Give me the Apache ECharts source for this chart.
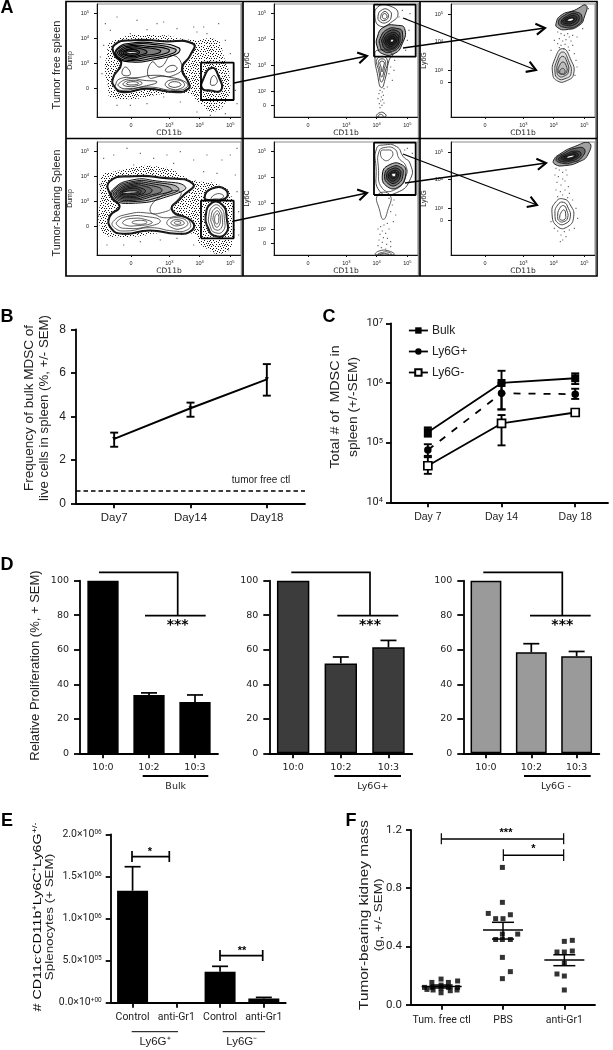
<!DOCTYPE html>
<html><head><meta charset="utf-8">
<style>html,body{margin:0;padding:0;background:#fff}#c{width:613px;height:1050px}</style>
<script src="https://cdn.jsdelivr.net/npm/echarts@6/dist/echarts.min.js"></script>
</head><body><div id="c"></div>
<script>
/* ---------- Panel A: contour plots, values in display channels (0-432 x, 0-339 y) ---------- */
const a1Halo=[[29,181],[44,226],[169,246],[289,231],[359,231],[381,181],[399,111],[389,51],[349,16],[309,41],[269,71],[49,56],[31,101],[24,151]];
const a1Outer=[[54,216],[109,229],[199,226],[287,219],[279,186],[254,146],[274,101],[274,86],[239,76],[149,86],[79,76],[54,91],[49,116],[74,161],[54,186]];
const a1Patch=[[319,111],[344,146],[364,121],[371,81],[339,81],[317,86]];
const a1Top=[
[[60,205],[105,222],[170,222],[245,208],[240,190],[170,172],[105,165],[60,180]],
[[62,203],[105,218],[165,218],[235,204],[230,192],[165,176],[105,169],[62,182]],
[[66,200],[105,214],[155,212],[215,203],[210,192],[150,180],[105,173],[66,185]],
[[70,198],[105,210],[145,208],[190,200],[185,192],[140,184],[105,177],[70,187]],
[[74,196],[105,206],[135,204],[150,194],[130,186],[105,181],[74,189]],
[[80,195],[105,202],[125,198],[125,190],[105,185],[80,190]]];
const a1Rings=[
[[55,95],[70,115],[120,118],[170,125],[215,120],[265,105],[270,90],[235,80],[150,90],[80,80],[58,85]],
[[65,100],[100,115],[140,110],[180,105],[140,92],[90,85],[68,90]],
[[78,100],[105,110],[135,103],[125,95],[90,92]],
[[88,100],[108,106],[125,101],[105,96]],
[[205,100],[232,112],[262,100],[250,85],[220,85]],
[[215,98],[232,106],[252,98],[240,90],[222,91]],
[[76,128],[85,150],[100,128]],
[[155,120],[165,165],[190,150],[225,185],[255,150],[230,125],[190,122]],
[[205,140],[225,155],[240,145],[220,135]],
[[340,100],[349,124],[360,112],[358,100],[348,95]]];
const a1Dark=[[[85,193],[105,197],[122,194],[108,191],[85,192]]];
const a1Dots=[[25,280],[60,300],[120,290],[180,280],[200,285],[240,265],[290,270],[320,270],[365,280],[100,250],[150,262],[330,250],[300,255],[385,230],[400,190],[410,140],[415,80],[420,40],[385,10],[340,5],[300,15],[250,45],[200,60],[150,40],[100,35],[60,35],[15,130],[10,180],[20,215],[40,260]];
const a1Gate=[[312,51],[410,51],[410,163],[312,163],[312,51]];

const a2Halo=[[14,235],[49,250],[189,265],[289,225],[369,210],[404,175],[409,115],[409,45],[379,5],[319,25],[279,65],[39,55],[9,85],[9,165]];
const a2Outer=[[39,220],[109,235],[199,230],[287,213],[254,175],[224,135],[284,100],[284,75],[239,65],[159,75],[79,65],[44,80],[39,115],[69,145],[44,175]];
const a2Patch=[[327,115],[345,155],[375,150],[388,110],[385,65],[350,60],[335,80]];
const a2Upper=[[324,172],[345,198],[384,196],[386,172],[345,166]];
const a2Top=[
[[46,195],[105,225],[180,222],[265,205],[220,178],[105,155],[46,170]],
[[50,195],[105,220],[175,218],[245,200],[200,178],[105,160],[50,172]],
[[54,193],[105,216],[165,214],[225,196],[180,180],[105,164],[54,174]],
[[58,191],[105,212],[155,210],[195,194],[155,178],[105,168],[58,176]],
[[62,190],[105,208],[145,206],[165,192],[135,178],[105,172],[62,178]],
[[68,189],[105,204],[135,200],[145,190],[125,180],[105,176],[68,180]],
[[72,188],[105,200],[128,196],[132,188],[115,182],[72,182]]];
const a2Rings=[
[[48,100],[90,122],[160,125],[200,112],[255,115],[280,95],[270,75],[230,72],[160,82],[85,72],[52,82]],
[[60,100],[90,115],[150,115],[190,102],[150,85],[85,80],[62,88]],
[[78,100],[110,110],[150,105],[165,96],[120,88],[85,90]],
[[105,98],[130,104],[150,98],[130,92]],
[[210,100],[240,112],[272,97],[255,80],[225,82]],
[[222,98],[240,106],[262,96],[245,88],[228,90]],
[[232,97],[242,101],[252,96],[240,92]],
[[160,130],[190,175],[250,190],[230,150],[205,130]],
[[340,165],[355,182],[378,180],[375,170],[350,168]],
[[335,115],[350,148],[372,142],[382,110],[378,72],[352,68],[340,85]],
[[342,113],[354,140],[368,136],[376,108],[372,80],[355,76],[346,90]],
[[348,112],[358,132],[366,128],[370,106],[366,88],[357,84],[352,95]],
[[353,110],[360,124],[364,120],[365,104],[362,94],[357,94]]];
const a2Dark=[[[75,188],[105,192],[125,189],[105,186],[75,186]]];
const a2Dots=[[20,290],[50,300],[90,320],[130,305],[170,290],[210,300],[250,310],[290,285],[330,300],[375,285],[400,300],[420,320],[110,270],[230,275],[320,250],[360,245],[415,240],[420,190],[425,130],[425,60],[395,15],[350,10],[290,30],[240,50],[190,45],[130,40],[80,30],[30,30],[5,120],[12,210]];
const a2Gate=[[312,50],[410,50],[410,163],[312,163],[312,50]];

const b1Rings=[
[[303,300],[315,333],[350,332],[372,310],[350,283],[320,272]],
[[312,302],[325,322],[345,320],[352,303],[340,285],[320,285]],
[[320,302],[330,316],[340,312],[343,300],[333,290],[322,292]],
[[325,301],[330,310],[338,306],[337,297],[329,295]],
[[303,180],[310,130],[322,88],[335,120],[345,170],[355,190],[310,200]],
[[310,175],[315,135],[322,105],[332,130],[338,175]],
[[315,170],[318,140],[323,120],[330,140],[333,170]],
[[318,165],[321,150],[324,135],[328,150],[330,165]],
[[308,1],[315,12],[330,12],[335,1]],
[[313,1],[320,8],[328,1]]];
const b1Blob=[
[[310,240],[330,270],[370,275],[392,265],[385,220],[360,190],[325,190],[310,210]],
[[318,235],[340,263],[372,265],[385,255],[378,215],[350,195],[328,198],[318,215]],
[[325,235],[345,258],[370,258],[378,245],[372,215],[352,202],[333,205],[325,220]],
[[330,232],[350,252],[368,250],[374,235],[365,212],[345,207],[335,215]],
[[335,230],[352,246],[366,243],[368,228],[358,215],[345,213]],
[[340,230],[354,241],[363,236],[362,224],[350,218],[342,222]],
[[345,230],[355,237],[360,230],[355,222],[347,224]]];
const b1Core=[[350,229],[355,233],[358,228],[353,225]];
const b1Dots=[[318,80],[325,75],[330,85],[315,70],[322,60],[328,65],[312,55],[320,48],[326,52],[316,40],[324,35],[330,42],[318,28],[345,130],[355,110],[350,150],[362,170],[395,200],[400,230],[405,260],[375,300],[385,320],[395,295],[408,310],[340,90],[360,140]];
const b1Gate=[[300,181],[425,181],[425,337],[300,337],[300,181]];

const c1Blob=[
[[315,280],[330,305],[370,320],[405,335],[400,300],[385,275],[345,262],[320,268]],
[[322,283],[345,308],[375,315],[393,300],[380,275],[345,268]],
[[330,285],[350,304],[372,310],[385,298],[372,278],[345,275]],
[[335,287],[352,300],[370,304],[378,295],[365,282],[345,280]],
[[342,288],[355,296],[368,298],[370,292],[358,286]]];
const c1Core=[[350,290],[358,294],[366,294],[360,289]];
const c1Rings=[
[[305,130],[312,175],[335,205],[358,175],[368,130],[345,108],[320,108]],
[[312,135],[318,170],[335,195],[352,170],[360,130],[342,115],[322,115]],
[[318,135],[322,165],[335,182],[348,165],[352,135],[338,122],[325,122]],
[[322,135],[326,155],[336,165],[345,155],[347,135],[335,128]],
[[326,135],[332,145],[340,143],[341,132],[333,129]]];
const c1Dots=[[320,255],[330,250],[340,245],[350,250],[355,240],[325,235],[335,228],[345,232],[360,228],[320,220],[330,215],[342,218],[352,210],[365,215],[325,208],[338,205],[355,200],[370,190],[375,170],[378,150],[372,125],[300,200],[310,230],[365,245],[378,240],[395,265],[412,325]];

const b2Outer=[[308,320],[328,330],[368,325],[388,295],[408,275],[410,230],[368,187],[318,190],[306,265]];
const b2Rings=[
[[315,310],[330,322],[362,318],[375,290],[395,268],[395,235],[365,197],[325,200],[313,265]],
[[320,310],[335,315],[355,310],[350,290],[330,285]],
[[311,180],[318,130],[328,107],[340,130],[348,180]],
[[305,1],[315,12],[345,12],[360,1]],
[[312,1],[325,8],[345,8],[352,1]],
[[318,1],[330,5],[345,1]]];
const b2Blob=[
[[325,240],[345,270],[385,270],[395,240],[375,205],[340,205]],
[[332,240],[350,263],[380,263],[387,240],[370,212],[345,212]],
[[338,240],[353,258],[375,257],[380,240],[367,218],[348,218]],
[[343,240],[355,252],[371,252],[374,240],[363,224],[350,224]],
[[348,241],[358,248],[368,247],[368,238],[360,230],[352,231]]];
const b2Core=[[353,241],[360,245],[365,241],[360,235]];
const b2Dots=[[345,170],[355,150],[350,130],[360,165],[340,95],[330,90],[320,85],[312,78],[325,72],[335,65],[318,62],[328,52],[340,50],[315,45],[325,38],[338,32],[350,40],[312,28],[322,22],[335,18],[350,25],[365,120],[358,100],[345,78],[400,320],[415,305],[392,315]];
const b2Gate=[[300,180],[425,180],[425,337],[300,337],[300,180]];

const c2Blob=[
[[308,285],[330,305],[370,325],[415,336],[410,300],[385,280],[340,268],[312,272]],
[[315,287],[340,306],[372,320],[400,318],[392,292],[365,278],[335,275]],
[[322,288],[345,303],[372,312],[390,305],[380,290],[355,281],[335,280]],
[[330,290],[350,300],[372,307],[382,300],[370,290],[350,284]],
[[338,292],[355,298],[372,302],[374,296],[355,288]]];
const c2Core=[[348,293],[358,297],[368,298],[358,293]];
const c2Rings=[
[[303,125],[315,160],[338,168],[358,150],[368,115],[350,85],[320,85]],
[[312,120],[320,150],[338,158],[352,140],[358,115],[345,95],[322,95]],
[[320,115],[326,140],[338,148],[347,135],[350,112],[338,100],[325,102]],
[[326,112],[332,130],[340,135],[344,120],[342,108],[330,105]]];
const c2Dots=[[315,260],[325,255],[335,248],[345,255],[312,240],[322,235],[335,228],[348,240],[318,218],[330,210],[342,222],[352,205],[315,195],[328,190],[342,195],[355,185],[320,175],[335,180],[350,172],[365,165],[375,140],[380,110],[370,80],[355,75],[340,70],[330,60],[320,72],[345,55],[335,45],[328,40],[310,80],[300,100]];
const flowTicksX=[102,217,308,400];
const flowTicksXLabels=['0','3','4','5'];
const flowTicksY1=[311,236,161,86];
const flowLabelsY1=['5','4','3','0'];
const flowTicksY2=[311,234,156,76,36];
const flowLabelsY2=['5','4','3','2','0'];
const flowTicksY3=[308,226,139,103];
const flowLabelsY3=['5','4','3','0'];

/* ---------- Panel B ---------- */
const bDays=['Day7','Day14','Day18'];
const bMean=[2.96,4.37,5.7];
const bLow=[2.6,3.98,4.95];
const bHigh=[3.25,4.63,6.4];
const bCtl=0.6;
/* ---------- Panel C ---------- */
const cDays=['Day 7','Day 14','Day 18'];
const cBulk=[1.5e5,1e6,1.2e6], cBulkLow=[1.26e5,3.6e5,9.6e5], cBulkHigh=[1.8e5,1.6e6,1.45e6];
const cPos=[7.5e4,6.7e5,6.5e5], cPosLow=[6e4,3.6e5,5.4e5], cPosHigh=[9.4e4,1e6,8e5];
const cNeg=[4.1e4,2.1e5,3.2e5], cNegLow=[3e4,9e4,2.9e5], cNegHigh=[5.7e4,2.9e5,3.5e5];
/* ---------- Panel D ---------- */
const dCats=['10:0','10:2','10:3'];
const dBulk=[100,33.8,29.7], dBulkErr=[100,35,33.8];
const dPos=[100,52.1,61.4], dPosErr=[100,55.8,65.4];
const dNeg=[100,58.5,56.2], dNegErr=[100,63.5,59];
/* ---------- Panel E ---------- */
const eCats=['Control','anti-Gr1','Control ','anti-Gr1 '];
const eVals=[1.33e6,0,3.68e5,5e4];
const eErr=[1.615e6,0,4.32e5,6.3e4];
const eTicks=[['0.0','+00'],['5.0','05'],['1.0','06'],['1.5','06'],['2.0','06']];
/* ---------- Panel F: x = 0.5,1.5,2.5 for the three groups ---------- */
const fCats=['Tum. free ctl','PBS','anti-Gr1'];
const fTum=[[0.49,.176],[0.34,.153],[0.61,.153],[0.76,.163],[0.22,.119],[0.34,.119],[0.49,.135],[0.61,.119],[0.76,.119],[0.36,.101],[0.49,.112],[0.64,.096],[0.49,.082],[0.75,.101],[0.26,.105]];
const fPbs=[[1.49,.943],[1.49,.703],[1.26,.627],[1.62,.618],[1.38,.591],[1.50,.591],[1.49,.485],[1.74,.485],[1.38,.448],[1.49,.448],[1.62,.448],[1.49,.325],[1.62,.227],[1.49,.179]];
const fGr1=[[2.5,.435],[2.63,.442],[2.38,.362],[2.5,.362],[2.63,.369],[2.5,.284],[2.38,.211],[2.5,.197],[2.5,.101]];
const fMean=[.125,.513,.307];
const fLow=[.115,.451,.268];
const fHigh=[.135,.566,.343];

const sans='"Liberation Sans",Arial,sans-serif', narrow='Roboto,"Liberation Sans",sans-serif', wide='"DejaVu Sans",sans-serif';

/* speckle texture for the dense dot cloud */
function speckle(dots,size){const c=document.createElement('canvas');c.width=c.height=size;const g=c.getContext('2d');g.fillStyle='#1a1a1a';dots.forEach(d=>g.fillRect(d[0],d[1],1,1));return {image:c,repeat:'repeat'};}
const speckleTile=[[0,0],[3,0],[6,1],[9,0],[12,1],[1,2],[4,2],[8,2],[11,3],[13,3],[0,4],[2,4],[6,4],[9,4],[12,5],[3,5],[5,6],[8,6],[10,6],[13,7],[1,6],[0,8],[3,8],[6,8],[11,8],[2,9],[5,10],[8,9],[10,10],[13,10],[0,11],[3,11],[7,11],[12,12],[1,13],[4,13],[6,13],[9,12],[11,13],[14,13],[14,1],[14,5]];
const speckleFill=speckle(speckleTile,15);

const grids=[],xAxes=[],yAxes=[],series=[],graphic=[];

function polyRender(polys,style){return function(p,api){const poly=polys[api.value(0)];
  return {type:'polygon',shape:{points:poly.map(q=>api.coord(q)),smooth:style.smooth===undefined?0.55:style.smooth},style:{fill:style.fill||'none',stroke:style.stroke||'none',lineWidth:style.lw||0},silent:true};};}
function polys(gi,list,style,z){series.push({type:'custom',xAxisIndex:gi,yAxisIndex:gi,z:z,clip:true,silent:true,data:list.map((_,i)=>[i]),encode:{x:[],y:[]},renderItem:polyRender(list,style)});}

function flowPanel(left,top,name,yTicks,yLabels){
  const gi=grids.length;
  grids.push({left:left,top:top,width:144,height:113,show:true,borderColor:'#8a8a8a',borderWidth:1,backgroundColor:'#fff'});
  const rich={s:{fontSize:4,fontFamily:sans,color:'#222',verticalAlign:'top',padding:[0,0,2,0]}};
  xAxes.push({gridIndex:gi,type:'value',min:0,max:432,name:'CD11b',nameLocation:'middle',nameGap:12,nameTextStyle:{fontSize:7.5,fontFamily:wide,color:'#222'},
    axisLine:{show:true,onZero:false,lineStyle:{color:'#111',width:1}},splitLine:{show:false},
    axisTick:{show:true,length:2,customValues:flowTicksX,lineStyle:{color:'#111',width:1}},
    axisLabel:{fontSize:5.5,fontFamily:sans,color:'#222',margin:5,customValues:flowTicksX,rich:rich,formatter:v=>{const l=flowTicksXLabels[flowTicksX.indexOf(v)];return l==='0'?'0':'10{s|'+l+'}';}}});
  yAxes.push({gridIndex:gi,type:'value',min:0,max:339,name:name,nameLocation:'middle',nameGap:23,nameTextStyle:{fontSize:7,fontFamily:sans,color:'#222'},
    axisLine:{show:true,onZero:false,lineStyle:{color:'#111',width:1}},splitLine:{show:false},
    axisTick:{show:true,length:3,customValues:yTicks,lineStyle:{color:'#111',width:1}},
    axisLabel:{fontSize:5.5,fontFamily:sans,color:'#222',margin:8,customValues:yTicks,rich:rich,formatter:v=>{const l=yLabels[yTicks.indexOf(v)];return l==='0'?'0':'10{s|'+l+'}';}}});
  return gi;
}
function dots(gi,list,z=4,size=1.1){series.push({type:'scatter',xAxisIndex:gi,yAxisIndex:gi,data:list,symbol:'rect',symbolSize:size,itemStyle:{color:'#333'},z:z,silent:true});}
function gate(gi,pts){series.push({type:'line',xAxisIndex:gi,yAxisIndex:gi,data:pts,symbol:'none',lineStyle:{color:'#000',width:1.8},z:9,silent:true});}
const shade='rgba(0,0,0,0.16)';

/* A row 1 */
let g=flowPanel(97,4,'Dump',flowTicksY1,flowLabelsY1);
polys(g,[a1Halo],{fill:speckleFill},2);dots(g,a1Dots);
polys(g,[a1Outer,a1Patch],{stroke:'#222',lw:3},3);
polys(g,[a1Outer],{fill:'#fff',stroke:'#111',lw:1.2},5);polys(g,[a1Patch],{fill:'#fff',stroke:'#111',lw:1.2},5);
polys(g,a1Rings,{stroke:'#222',lw:0.8},6);polys(g,a1Top,{fill:shade,stroke:'#000',lw:1.1},6);polys(g,a1Dark,{fill:'#fff',stroke:'#000',lw:1},7);gate(g,a1Gate);

g=flowPanel(274,4,'Ly6C',flowTicksY2,flowLabelsY2);
dots(g,b1Dots);polys(g,b1Rings,{stroke:'#333',lw:0.9},6);polys(g,b1Blob,{fill:'rgba(20,20,20,0.36)',stroke:'#111',lw:1},6);polys(g,[b1Core],{fill:'#fff',stroke:'#000',lw:0.6},7);gate(g,b1Gate);

g=flowPanel(451,4,'Ly6G',flowTicksY3,flowLabelsY3);
dots(g,c1Dots);polys(g,c1Rings,{fill:'rgba(0,0,0,0.07)',stroke:'#444',lw:1},6);polys(g,c1Blob,{fill:'rgba(20,20,20,0.4)',stroke:'#111',lw:0.9},6);polys(g,[c1Core],{fill:'#fff'},7);

/* A row 2 */
g=flowPanel(97,142,'Dump',flowTicksY1,flowLabelsY1);
polys(g,[a2Halo],{fill:speckleFill},2);dots(g,a2Dots);
polys(g,[a2Outer,a2Patch,a2Upper],{stroke:'#222',lw:3},3);
polys(g,[a2Outer],{fill:'#fff',stroke:'#111',lw:1.2},5);polys(g,[a2Patch,a2Upper],{fill:'#fff',stroke:'#111',lw:1.2},5);
polys(g,a2Rings,{stroke:'#333',lw:0.8},6);polys(g,a2Top,{fill:shade,stroke:'#111',lw:1},6);polys(g,a2Dark,{fill:'#fff',stroke:'#000',lw:1},7);gate(g,a2Gate);

g=flowPanel(274,142,'Ly6C',flowTicksY2,flowLabelsY2);
dots(g,b2Dots);polys(g,[b2Outer],{stroke:'#333',lw:0.9},6);polys(g,b2Rings,{stroke:'#333',lw:0.8},6);polys(g,b2Blob,{fill:'rgba(20,20,20,0.36)',stroke:'#111',lw:1},6);polys(g,[b2Core],{fill:'#fff',stroke:'#000',lw:0.6},7);gate(g,b2Gate);

g=flowPanel(451,142,'Ly6G',flowTicksY3,flowLabelsY3);
dots(g,c2Dots);polys(g,c2Rings,{stroke:'#444',lw:1},6);polys(g,c2Blob,{fill:'rgba(20,20,20,0.4)',stroke:'#111',lw:0.9},6);polys(g,[c2Core],{fill:'#fff'},7);

/* shared helpers for the plain axes */
const axLine={show:true,onZero:false,lineStyle:{color:'#000',width:1.8}};
const axTick={show:true,alignWithLabel:true,length:5,lineStyle:{color:'#000',width:1.8}};
const yTick={show:true,length:5,lineStyle:{color:'#000',width:1.8}};
function errorSeries(gi,xs,low,high,capW,z=6,lw=1.9){
  series.push({type:'custom',xAxisIndex:gi,yAxisIndex:gi,z:z,silent:true,data:xs.map((x,i)=>[x,low[i],high[i]]),encode:{x:0,y:[1,2]},
  renderItem(p,api){const a=api.coord([api.value(0),api.value(1)]),b=api.coord([api.value(0),api.value(2)]);
    const st={stroke:'#000',lineWidth:lw,fill:'none'};
    return {type:'group',children:[
      {type:'line',shape:{x1:a[0],y1:a[1],x2:b[0],y2:b[1]},style:st},
      {type:'line',shape:{x1:a[0]-capW/2,y1:a[1],x2:a[0]+capW/2,y2:a[1]},style:st},
      {type:'line',shape:{x1:b[0]-capW/2,y1:b[1],x2:b[0]+capW/2,y2:b[1]},style:st}]};}});
}
function barErr(gi,vals,errs){series.push({type:'custom',xAxisIndex:gi,yAxisIndex:gi,z:2,silent:true,data:vals.map((v,i)=>[i,v,errs[i]]),encode:{x:0,y:[1,2]},renderItem(p,api){if(api.value(1)===api.value(2))return null;const a=api.coord([api.value(0),api.value(1)]),b=api.coord([api.value(0),api.value(2)]);const st={stroke:'#000',lineWidth:1.7};return {type:'group',children:[{type:'line',shape:{x1:a[0],y1:a[1],x2:b[0],y2:b[1]},style:st},{type:'line',shape:{x1:b[0]-8,y1:b[1],x2:b[0]+8,y2:b[1]},style:st}]};}});}

/* B */
g=grids.length;grids.push({left:76,top:329.3,width:229,height:174});
xAxes.push({gridIndex:g,type:'category',data:bDays,axisLine:axLine,axisTick:axTick,axisLabel:{fontSize:11.5,fontFamily:sans,color:'#222',margin:9}});
yAxes.push({gridIndex:g,type:'value',min:0,max:8,interval:2,axisLine:axLine,axisTick:yTick,splitLine:{show:false},axisLabel:{fontSize:12,fontFamily:sans,color:'#222',margin:10}});
series.push({type:'line',name:'B',xAxisIndex:g,yAxisIndex:g,data:bMean,symbol:'triangle',symbolRotate:180,symbolSize:4,itemStyle:{color:'#000'},lineStyle:{color:'#000',width:1.9},z:5,
  markLine:{silent:true,symbol:'none',label:{show:false},lineStyle:{color:'#000',type:[4.5,3],width:1.5},data:[{yAxis:bCtl}]}});
errorSeries(g,bDays.map((_,i)=>i),bLow,bHigh,8);

/* C */
g=grids.length;grids.push({left:391,top:323.3,width:217,height:179});
xAxes.push({gridIndex:g,type:'value',min:0.5,max:3.445,axisLine:axLine,splitLine:{show:false},
  axisTick:{show:true,length:5,customValues:[1,2,3],lineStyle:{color:'#000',width:1.8}},
  axisLabel:{fontSize:10.5,fontFamily:sans,color:'#222',margin:9,customValues:[1,2,3],formatter:v=>cDays[v-1]}});
yAxes.push({gridIndex:g,type:'log',logBase:10,min:1e4,max:1e7,axisLine:axLine,axisTick:yTick,splitLine:{show:false},minorTick:{show:false},
  axisLabel:{fontFamily:narrow,fontSize:11,color:'#222',margin:8,rich:{s:{fontSize:7.5,fontFamily:narrow,color:'#222',verticalAlign:'top',padding:[0,0,4,0]}},formatter:v=>'10{s|'+Math.round(Math.log10(v))+'}'}});
const cX=[1,2,3];
const toPts=a=>a.map((v,i)=>[cX[i],v]);
const cLineBase={xAxisIndex:g,yAxisIndex:g,type:'line',z:5,itemStyle:{color:'#000'}};
series.push(Object.assign({},cLineBase,{name:'Bulk',data:toPts(cBulk),symbol:'rect',symbolSize:8,lineStyle:{color:'#000',width:1.8}}));
series.push(Object.assign({},cLineBase,{name:'Ly6G+',data:toPts(cPos),symbol:'circle',symbolSize:7.5,lineStyle:{color:'#000',width:1.8,type:[7,8]}}));
series.push(Object.assign({},cLineBase,{name:'Ly6G-',data:toPts(cNeg),symbol:'rect',symbolSize:8,itemStyle:{color:'#fff',borderColor:'#000',borderWidth:1.7},lineStyle:{color:'#000',width:1.8}}));
errorSeries(g,cX,cBulkLow,cBulkHigh,8,4);errorSeries(g,cX,cPosLow,cPosHigh,8,4);errorSeries(g,cX,cNegLow,cNegHigh,8,4);
const legend={left:403,top:319.5,orient:'vertical',itemWidth:19,itemHeight:8,itemGap:9,textStyle:{fontFamily:sans,fontSize:12,color:'#222',padding:[0,0,0,-1]},lineStyle:{type:'solid',width:1.8},selectedMode:false,data:['Bulk','Ly6G+','Ly6G-']};

/* D */
function barPanel(left,width,vals,errs,fill,border){
  const gi=grids.length;grids.push({left:left,top:580.7,width:width,height:172.6});
  xAxes.push({gridIndex:gi,type:'category',data:dCats,axisLine:axLine,axisTick:axTick,axisLabel:{fontSize:9.5,fontFamily:wide,color:'#222',margin:9}});
  yAxes.push({gridIndex:gi,type:'value',min:0,max:100,interval:20,axisLine:axLine,axisTick:{show:true,length:6,lineStyle:{color:'#000',width:1.8}},splitLine:{show:false},axisLabel:{fontSize:9.5,fontFamily:wide,color:'#222',margin:11}});
  series.push({type:'bar',xAxisIndex:gi,yAxisIndex:gi,data:vals,barWidth:'68%',itemStyle:{color:fill,borderColor:border,borderWidth:1.5},z:3,silent:true});
  barErr(gi,vals,errs);
}
barPanel(80,138,dBulk,dBulkErr,'#000','#000');
barPanel(269.3,143,dPos,dPosErr,'#3c3c3c','#000');
barPanel(463.3,136,dNeg,dNegErr,'#9a9a9a','#000');

/* E */
g=grids.length;grids.push({left:110.7,top:834.3,width:175,height:168.4});
xAxes.push({gridIndex:g,type:'category',data:eCats,axisLine:axLine,axisTick:axTick,axisLabel:{fontSize:10.5,fontFamily:narrow,color:'#222',margin:9,interval:0,formatter:v=>v.trim()}});
yAxes.push({gridIndex:g,type:'value',min:0,max:2e6,interval:5e5,axisLine:axLine,axisTick:yTick,splitLine:{show:false},
  axisLabel:{fontFamily:narrow,fontSize:10.5,color:'#222',margin:9,rich:{s:{fontSize:6.5,fontFamily:narrow,color:'#222',verticalAlign:'top',padding:[0,0,4,0]}},formatter:v=>{const t=eTicks[Math.round(v/5e5)];return t[0]+'×10{s|'+t[1]+'}';}}});
series.push({type:'bar',xAxisIndex:g,yAxisIndex:g,data:eVals,barWidth:31,itemStyle:{color:'#000'},z:3,silent:true});
barErr(g,eVals,eErr);

/* F */
g=grids.length;grids.push({left:411,top:830,width:184,height:174.7});
xAxes.push({gridIndex:g,type:'value',min:0,max:3,axisLine:axLine,splitLine:{show:false},axisTick:{show:true,length:5,customValues:[.5,1.5,2.5],lineStyle:{color:'#000',width:1.8}},
  axisLabel:{fontSize:10.5,fontFamily:narrow,color:'#222',margin:10,customValues:[.5,1.5,2.5],formatter:v=>fCats[Math.floor(v)]}});
yAxes.push({gridIndex:g,type:'value',min:0,max:1.2,interval:.4,axisLine:axLine,axisTick:yTick,splitLine:{show:false},axisLabel:{fontSize:11.5,fontFamily:narrow,color:'#222',margin:9,formatter:v=>v.toFixed(1)}});
[fTum,fPbs,fGr1].forEach(d=>series.push({type:'scatter',xAxisIndex:g,yAxisIndex:g,data:d,symbol:'rect',symbolSize:5,itemStyle:{color:'#000'},z:4,silent:true}));
series.push({type:'custom',xAxisIndex:g,yAxisIndex:g,z:5,silent:true,data:fMean.map((m,i)=>[i+.5,m,fLow[i],fHigh[i]]),encode:{x:0,y:[1,2,3]},renderItem(p,api){const x=api.value(0),m=api.coord([x,api.value(1)]),l=api.coord([x,api.value(2)]),h=api.coord([x,api.value(3)]);const st={stroke:'#000',lineWidth:1.5};return {type:'group',children:[
  {type:'line',shape:{x1:m[0]-20,y1:m[1],x2:m[0]+20,y2:m[1]},style:st},{type:'line',shape:{x1:l[0]-11,y1:l[1],x2:l[0]+11,y2:l[1]},style:st},{type:'line',shape:{x1:h[0]-11,y1:h[1],x2:h[0]+11,y2:h[1]},style:st},{type:'line',shape:{x1:l[0],y1:l[1],x2:h[0],y2:h[1]},style:st}]};}});

/* annotations */
function T(x,y,text,o={}){graphic.push({type:'text',x:x,y:y,rotation:o.rot||0,scaleX:o.sx||1,scaleY:o.sy||1,z:100,silent:true,style:{text:text,fill:o.color||'#222',font:(o.weight||'normal')+' '+(o.size||11)+'px '+(o.family||sans),textAlign:o.align||'center',textVerticalAlign:'middle',rich:o.rich}});}
function L(pts,w=1.7,c='#000'){graphic.push({type:'polyline',z:100,silent:true,shape:{points:pts},style:{stroke:c,lineWidth:w,fill:'none'}});}
function arrow(a,b){L([a,b],1.3);const ang=Math.atan2(b[1]-a[1],b[0]-a[0]),h=10.5;L([[b[0]-h*Math.cos(ang-.55),b[1]-h*Math.sin(ang-.55)],b,[b[0]-h*Math.cos(ang+.55),b[1]-h*Math.sin(ang+.55)]],2.1);}
const R=Math.PI/2;
/* panel A frames */
[[241.5,3,241.5,275],[418.5,3,418.5,275],[595.8,3,595.8,275]].forEach(v=>L([[v[0],v[1]],[v[2],v[3]]],1.4,'#8a8a8a'));
graphic.push({type:'rect',z:99,silent:true,shape:{x:66,y:1.5,width:531,height:274.5},style:{fill:'none',stroke:'#000',lineWidth:1.7}});
L([[66,138.5],[597,138.5]],1.7);L([[243,1.5],[243,276]],1.7);L([[420,1.5],[420,276]],1.7);
[[[234,83],[367,56]],[[234,221],[367,193]],[[403,48],[545,28]],[[403,18],[536,70]],[[405,183],[546,163]],[[403,154],[537,205]]].forEach(a=>arrow(a[0],a[1]));
T(57,65,'Tumor free spleen',{rot:R,size:11});
T(57,203,'Tumor-bearing Spleen',{rot:R,size:10.8});
/* panel letters */
[['A',7,8],['B',7,317],['C',329,317],['D',7,565],['E',7,821],['F',351,821]].forEach(a=>T(a[1],a[2],a[0],{weight:'bold',size:18,color:'#000'}));
/* B */
T(29,408,'Frequency of bulk MDSC of',{rot:R,size:13.5});T(44,408,'live cells in spleen (%, +/- SEM)',{rot:R,size:13.2});
T(261,480.5,'tumor free ctl',{size:10});
/* C */
T(335,407,'Total # of  MDSC in',{rot:R,size:13,sx:1.1});T(353,407,'spleen (+/-SEM)',{rot:R,size:13,sx:1.06});
/* D */
T(35,665.5,'Relative Proliferation (%, + SEM)',{rot:R,size:13});
[[99,177.7,145,205.7],[291.3,370,337.3,398.3],[483.3,562.3,530,590.7]].forEach(b=>{L([[b[0],572.3],[b[1],572.3],[b[1],615.7]]);L([[b[2],615.7],[b[3],615.7]]);T(b[1],625,'***',{family:wide,weight:'bold',size:14,color:'#000'});});
[[142.7,208.3],[334.3,401],[524,590.7]].forEach(b=>L([[b[0],776],[b[1],776]],1.8));
T(175.7,787,'Bulk',{family:wide,size:9.5});T(373,787,'Ly6G+',{family:wide,size:9.5});T(556,787,'Ly6G -',{family:wide,size:9.5});
/* E */
const upRich={s:{fontSize:7,fontFamily:sans,color:'#222',verticalAlign:'top',padding:[0,0,4,0]},b:{fontSize:11,fontFamily:sans,color:'#222'}};
graphic.push({type:'text',x:37.5,y:917,rotation:R,scaleX:1.3,z:100,silent:true,style:{text:'{b|# CD11c}{s|-}{b|CD11b}{s|+}{b|Ly6C}{s|+}{b|Ly6G}{s|+/-}',rich:upRich,textAlign:'center',textVerticalAlign:'middle'}});
T(49.5,917,'Splenocytes (+ SEM)',{rot:R,size:11,sx:1.22});
L([[132,851],[132,862]]);L([[132,856.7],[169.3,856.7]]);L([[169.3,851],[169.3,862]]);T(150,852,'*',{weight:'bold',size:11,color:'#000'});
L([[220,950],[220,961]]);L([[220,955.7],[262.7,955.7]]);L([[262.7,950],[262.7,961]]);T(242,951,'**',{weight:'bold',size:11,color:'#000'});
L([[131.7,1031.7],[178,1031.7]],1);L([[222.7,1031.7],[265,1031.7]],1);
T(155,1042,'Ly6G⁺',{family:sans,size:11.5});T(241.7,1042,'Ly6G⁻',{family:sans,size:11.5});
/* F */
T(365,915,'Tumor-bearing kidney mass',{rot:R,size:12,sx:1.28});T(379,915,'(g, +/- SEM)',{rot:R,size:11,sx:1.22});
const fx=v=>310+v/3,fy=v=>780+v/3;
L([[fx(394),fy(160)],[fx(394),fy(193)]],1.2);L([[fx(394),fy(177)],[fx(761),fy(177)]],1.5);L([[fx(761),fy(160)],[fx(761),fy(193)]],1.2);T(fx(588),fy(159),'***',{weight:'bold',size:11,color:'#000'});
L([[fx(580),fy(208)],[fx(580),fy(243)]],1.2);L([[fx(580),fy(226)],[fx(761),fy(226)]],1.5);L([[fx(761),fy(208)],[fx(761),fy(243)]],1.2);T(fx(670),fy(207),'*',{weight:'bold',size:11,color:'#000'});

const chart=echarts.init(document.getElementById('c'),null,{renderer:'canvas',width:613,height:1050});
chart.setOption({animation:false,backgroundColor:'#fff',grid:grids,xAxis:xAxes,yAxis:yAxes,series:series,legend:legend,graphic:{elements:graphic},tooltip:{show:false}});
</script></body></html>
